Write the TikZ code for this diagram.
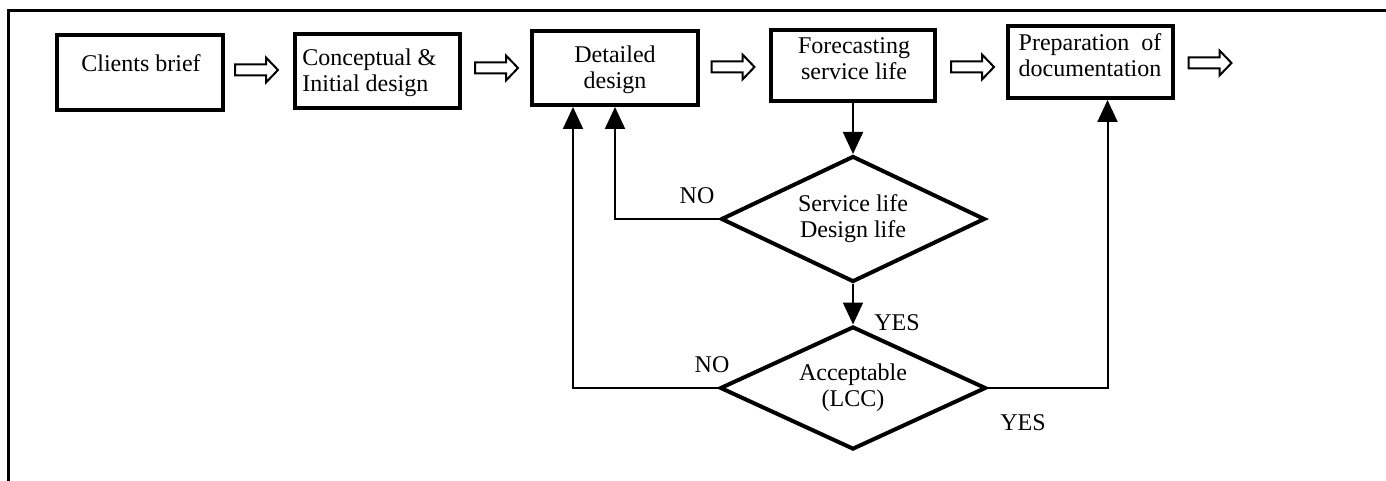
\documentclass[tikz,border=0pt]{standalone}
\usepackage{fontspec}
\setmainfont{Liberation Serif}
\usepackage{calc}
\usetikzlibrary{arrows.meta,shapes.geometric}

\tikzset{
  % hollow block arrow between two stages
  harrow/.pic={
    \draw[line width=1pt, line join=miter]
      (-21.5,-5.5) -- (9.5,-5.5) -- (9.5,-12.5) -- (21.5,0)
      -- (9.5,12.5) -- (9.5,5.5) -- (-21.5,5.5) -- cycle;
  },
  stage/.style={draw, line width=2pt, inner sep=0pt},
  txt/.style={align=center, inner sep=0pt},
  test/.style={draw, diamond, line width=2pt, inner sep=0pt, aspect=2},
  conn/.style={line width=1pt},
  flow/.style={conn, -{Triangle[length=11pt,width=10pt]}},
  lbl/.style={inner sep=0pt},
}

\begin{document}
\begin{tikzpicture}[x=0.5pt, y=-0.5pt,
  every node/.append style={font=\fontsize{12}{13}\selectfont}]
\useasboundingbox (0,0) rectangle (1386,481);

% frame
\draw[line width=1.5pt] (8,490) -- (8,11) -- (1390,11);

% stages
\node[stage, minimum width=83pt, minimum height=37.5pt] (cb) at (140,72.5) {};
\node[stage, minimum width=82.5pt, minimum height=37pt] (ci) at (377.5,71) {};
\node[stage, minimum width=83pt, minimum height=37pt] (dd) at (615,68) {};
\node[stage, minimum width=82pt, minimum height=35.5pt] (fs) at (853,65.5) {};
\node[stage, minimum width=82.5pt, minimum height=36pt] (pd) at (1090.5,62) {};

\node[txt] (cb-t) at (141,63) {Clients brief};
\node[txt, anchor=west, align=left] (ci-t) at (302,72.5) {Conceptual \&\\Initial design};
\node[txt] (dd-t) at (615,70) {Detailed\\design};
\node[txt] (fs-t) at (854,59) {Forecasting\\service life};
\node[txt] (pd-t) at (1090,55)
  {\makebox[\widthof{documentation}][s]{Preparation\hfill of}\\documentation};

% block arrows along the main sequence
\pic (a1) at (256.5,70) {harrow};
\pic (a2) at (496.5,68) {harrow};
\pic (a3) at (733,67) {harrow};
\pic (a4) at (972.5,67) {harrow};
\pic (a5) at (1210,63) {harrow};

% decisions
\node[test, minimum width=132pt, minimum height=63pt, align=center] (d1) at (853,219)
  {Service life\\Design life};
\node[test, minimum width=133pt, minimum height=61.5pt, align=center] (d2) at (853,388)
  {Acceptable\\(LCC)};

% connectors
\draw[flow] (fs) -- (d1);
\draw[flow] (d1) -- (d2);
\draw[flow] (d1.west) -| (dd.south);
\draw[flow] (d2.west) -| ([xshift=-21pt]dd.south);
\draw[flow] (d2.east) -| ([xshift=8.5pt]pd.south);

% branch labels
\node[lbl] (no1) at (697,196) {NO};
\node[lbl] (no2) at (712,365) {NO};
\node[lbl] (yes1) at (897,323) {YES};
\node[lbl] (yes2) at (1023,423) {YES};
\end{tikzpicture}
\end{document}
